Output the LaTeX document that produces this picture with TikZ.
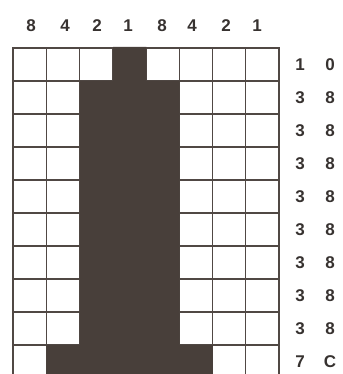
\documentclass[tikz,border=0pt]{standalone}
\usepackage{fontspec}
\setmainfont{Liberation Sans}
\definecolor{ink}{RGB}{72,63,58}
\definecolor{gridc}{RGB}{80,72,68}
\definecolor{labc}{RGB}{55,50,48}
\begin{document}
\begin{tikzpicture}[x=1pt,y=-1pt,
  lab/.style={font=\fontsize{17}{17}\selectfont\bfseries, text=labc, inner sep=0pt, anchor=center},
  gline/.style={draw=gridc, line width=1.3pt},
  frame/.style={draw=gridc, line width=2.2pt}]
\useasboundingbox (0,0) rectangle (342,374);
\clip (0,0) rectangle (342,374);
\fill[white] (0,0) rectangle (342,374);
% grid lines
\foreach \i in {1,...,7} \draw[gline] ({13+33.25*\i},48) -- ({13+33.25*\i},380);
\foreach \j in {1,...,9} \draw[gline] (13,{48+33*\j}) -- (279,{48+33*\j});
\draw[frame] (13,380) -- (13,48) -- (279,48) -- (279,380);
% dark pattern
\fill[ink] (113,47) -- (146.25,47) -- (146.25,81) -- (179.5,81) -- (179.5,345)
  -- (212.75,345) -- (212.75,380) -- (46.25,380) -- (46.25,345) -- (79.75,345)
  -- (79.75,81) -- (113,81) -- cycle;
% column weights
\node[lab] (c1) at (31,26) {8};
\node[lab] (c2) at (65,26) {4};
\node[lab] (c3) at (97,26) {2};
\node[lab] (c4) at (128,26) {1};
\node[lab] (c5) at (162,26) {8};
\node[lab] (c6) at (192,26) {4};
\node[lab] (c7) at (226,26) {2};
\node[lab] (c8) at (257,26) {1};
% row hex values
\foreach \a/\b [count=\k from 0] in {1/0,3/8,3/8,3/8,3/8,3/8,3/8,3/8,3/8,7/C} {
  \node[lab] (h\k) at (300,{65+33*\k}) {\a};
  \node[lab] (l\k) at (330,{65+33*\k}) {\b};
}
\end{tikzpicture}
\end{document}
